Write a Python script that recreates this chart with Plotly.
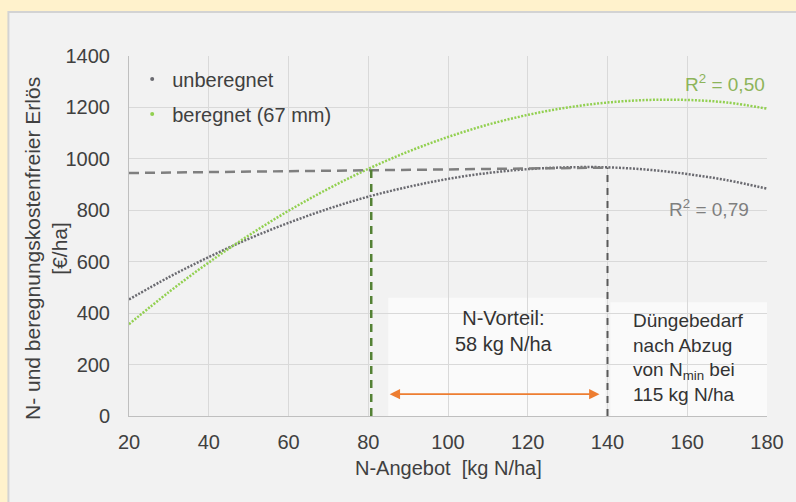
import plotly.graph_objects as go

# N-Angebot [kg N/ha]
N = [20, 30, 40, 50, 60, 70, 80, 90, 100, 110, 120, 130, 140, 150, 160, 170, 180]
# Erlös [€/ha]
unberegnet = [453, 540, 618, 689, 751, 806, 853, 891, 922, 945, 960, 967, 967, 958, 941, 917, 884]
beregnet = [357, 482, 597, 702, 798, 884, 961, 1028, 1085, 1133, 1171, 1200, 1219, 1229, 1229, 1219, 1195]

x_opt_beregnet = 80.75
x_opt_unberegnet = 140
y_level = [945, 966]
arrow_y = 85

FONT = 'Liberation Sans, Arial, sans-serif'
TXT = '#404040'
GRAY = '#6a6a70'
GREEN = '#92D050'

fig = go.Figure()

fig.add_trace(go.Scatter(x=N, y=unberegnet, mode='lines', line=dict(color=GRAY, width=2.5, dash='2px,1.5px', shape='spline'),
                         showlegend=False, hoverinfo='skip'))
fig.add_trace(go.Scatter(x=N, y=beregnet, mode='lines', line=dict(color=GREEN, width=2.5, dash='2px,1.5px', shape='spline'),
                         showlegend=False, hoverinfo='skip'))
# legend entries (small dot like the original)
fig.add_trace(go.Scatter(x=[None], y=[None], mode='markers', marker=dict(color=GRAY, size=4),
                         name='unberegnet', legendgroup='a'))
fig.add_trace(go.Scatter(x=[None], y=[None], mode='markers', marker=dict(color=GREEN, size=4),
                         name='beregnet (67 mm)', legendgroup='b'))

# panel behind the chart
fig.add_shape(type='rect', xref='paper', yref='paper', x0=-0.189, x1=1.1, y0=-0.3, y1=1.122,
              fillcolor='#F2F2F2', line=dict(color='#D3D3D3', width=2), layer='below')

# text boxes
fig.add_shape(type='rect', x0=85, x1=139.5, y0=0, y1=460, fillcolor='rgba(255,255,255,0.6)', line_width=0, layer='below')
fig.add_shape(type='rect', x0=140.7, x1=180, y0=0, y1=442, fillcolor='rgba(255,255,255,0.6)', line_width=0, layer='below')

# guide lines
fig.add_shape(type='line', x0=N[0], x1=x_opt_unberegnet, y0=y_level[0], y1=y_level[1],
              line=dict(color='#7F7F7F', width=2.5, dash='10px,6px'))
fig.add_shape(type='line', x0=x_opt_beregnet, x1=x_opt_beregnet, y0=0, y1=958,
              line=dict(color='#548235', width=2.5, dash='8px,6px'))
fig.add_shape(type='line', x0=x_opt_unberegnet, x1=x_opt_unberegnet, y0=0, y1=966,
              line=dict(color='#595959', width=2, dash='7px,6px'))

ann = []
ann.append(dict(x=138, y=arrow_y, ax=85, ay=arrow_y, xref='x', yref='y', axref='x', ayref='y', text='',
                showarrow=True, arrowhead=2, startarrowhead=2, arrowside='end+start', arrowsize=1.3,
                startarrowsize=1.3, arrowwidth=1.6, arrowcolor='#ED7D31'))
ann.append(dict(x=114, y=330, xref='x', yref='y', text='N-Vorteil:<br>58 kg N/ha', showarrow=False,
                font=dict(size=20, color='#333333')))
ann.append(dict(x=146, y=228, xref='x', yref='y', xanchor='left', align='left', showarrow=False,
                text='Düngebedarf<br>nach Abzug<br>von N<sub>min</sub> bei<br>115 kg N/ha',
                font=dict(size=19, color='#333333')))
ann.append(dict(x=180, y=1295, xref='x', yref='y', xanchor='right', text='R<sup>2</sup> = 0,50', showarrow=False,
                font=dict(size=19, color='#8DB45A')))
ann.append(dict(x=176, y=808, xref='x', yref='y', xanchor='right', text='R<sup>2</sup> = 0,79', showarrow=False,
                font=dict(size=19, color='#7F7F7F')))
ann.append(dict(x=0.5, y=-0.145, xref='paper', yref='paper', xanchor='center', yanchor='middle',
                text='N-Angebot  [kg N/ha]', showarrow=False, font=dict(size=20, color=TXT)))
ann.append(dict(x=-0.131, y=0.465, xref='paper', yref='paper', xanchor='center', yanchor='middle',
                text='N- und beregnungskostenfreier Erlös<br>[€/ha]',
                textangle=-90, showarrow=False, font=dict(size=21, color=TXT)))

fig.update_layout(
    width=796, height=502,
    margin=dict(l=129, r=27, t=56, b=86),
    paper_bgcolor='#FFF2CC', plot_bgcolor='#F2F2F2',
    font=dict(family=FONT, size=20, color=TXT),
    legend=dict(x=0.005, y=0.99, xanchor='left', yanchor='top', bgcolor='rgba(0,0,0,0)',
                font=dict(size=20, color=TXT), tracegroupgap=6, itemwidth=30),
    annotations=ann,
)
fig.update_xaxes(range=[20, 180], dtick=20, showgrid=True, gridcolor='#D9D9D9', showline=True, linecolor='#BFBFBF',
                 zeroline=False, ticklabelstandoff=8, tickfont=dict(size=20, color=TXT))
fig.update_yaxes(range=[0, 1400], dtick=200, showgrid=True, gridcolor='#D9D9D9', showline=True, linecolor='#BFBFBF',
                 zeroline=False, ticklabelstandoff=14, tickfont=dict(size=20, color=TXT))

fig.write_html("out.html", config={'displayModeBar': False},
               post_script="document.body.style.margin='0';document.body.style.background='#FFF2CC';")
